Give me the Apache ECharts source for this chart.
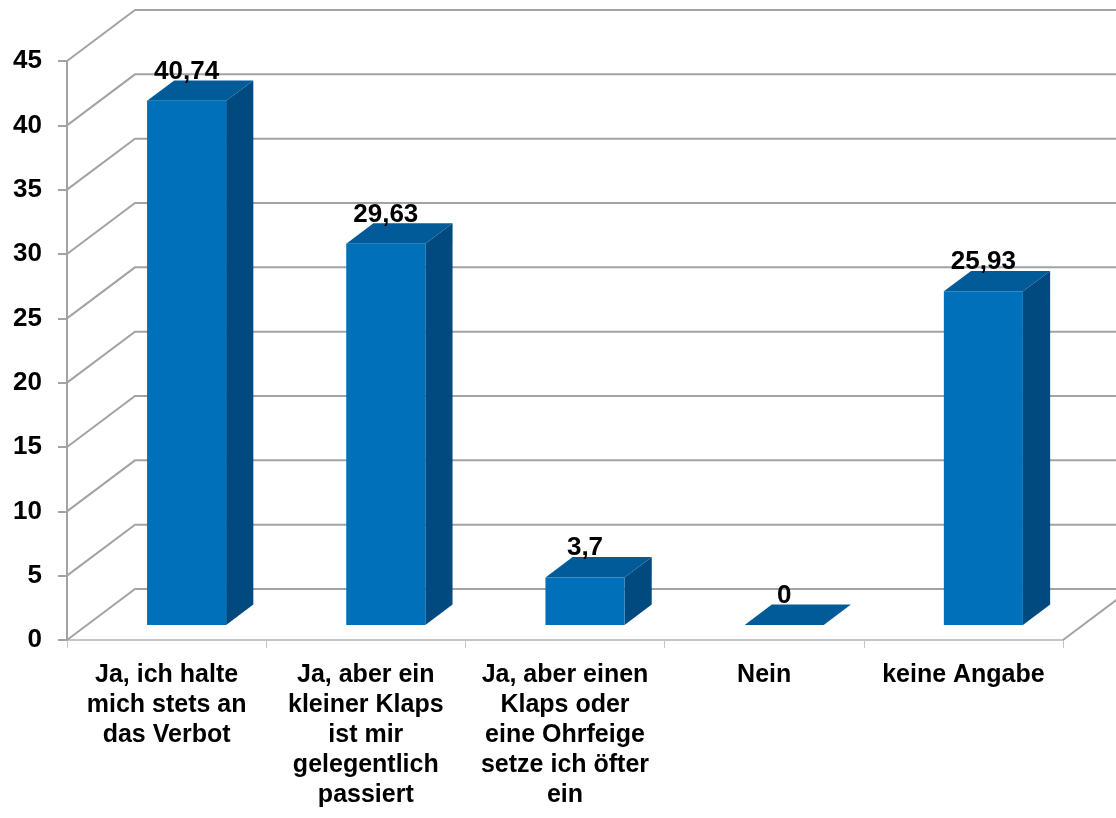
<!DOCTYPE html>
<html>
<head>
<meta charset="utf-8">
<script src="https://cdn.jsdelivr.net/npm/echarts@6/dist/echarts.min.js"></script>
<style>
  html, body { margin: 0; padding: 0; background: #ffffff; }
  #chart { width: 1116px; height: 818px; }
</style>
</head>
<body>
<div id="chart"></div>
<script>
// Survey answers (percent)
const categories = [
  'Ja, ich halte\nmich stets an\ndas Verbot',
  'Ja, aber ein\nkleiner Klaps\nist mir\ngelegentlich\npassiert',
  'Ja, aber einen\nKlaps oder\neine Ohrfeige\nsetze ich öfter\nein',
  'Nein',
  'keine Angabe'
];
const values = [40.74, 29.63, 3.7, 0, 25.93];
const yTicks = [0, 5, 10, 15, 20, 25, 30, 35, 40, 45];

// Oblique projection: offset of the back wall relative to the front plane
const DX = 68, DY = -51;
// Bar placement inside the depth and the band
const BAR_FRONT = 0.294, BAR_DEPTH = 0.4, BAR_WIDTH = 0.397;

const FONT = '"Liberation Sans", Arial, Helvetica, sans-serif';
const GRID_COLOR = '#a3a3a3';

const fmt = v => String(v).replace('.', ',');

const chart = echarts.init(document.getElementById('chart'), null, { renderer: 'canvas' });

function renderWalls(params, api) {
  const v = api.value(1);
  const cs = params.coordSys;
  const xL = cs.x, xR = cs.x + cs.width;
  const y = api.coord([0, v])[1];
  const children = [{
    type: 'polyline',
    shape: { points: [[xL, y], [xL + DX, y + DY], [xR + DX, y + DY]] },
    style: { stroke: GRID_COLOR, lineWidth: 2, fill: null }
  }];
  if (v === 0) {
    children.push({
      type: 'line',
      shape: { x1: xR, y1: y, x2: xR + DX, y2: y + DY },
      style: { stroke: GRID_COLOR, lineWidth: 2 }
    });
  }
  return { type: 'group', children };
}

function renderBar(params, api) {
  const idx = api.value(0), v = api.value(1);
  const base = api.coord([idx, 0]);
  const top = api.coord([idx, v]);
  const band = api.size([1, 0])[0];
  const w = band * BAR_WIDTH;
  const x0 = base[0] - w / 2 + DX * BAR_FRONT;
  const x1 = x0 + w;
  const yb = base[1] + DY * BAR_FRONT;
  const yt = top[1] + DY * BAR_FRONT;
  const ddx = DX * BAR_DEPTH, ddy = DY * BAR_DEPTH;
  return {
    type: 'group',
    children: [
      { type: 'polygon', shape: { points: [[x1, yt], [x1 + ddx, yt + ddy], [x1 + ddx, yb + ddy], [x1, yb]] },
        style: { fill: '#004A7F' } },
      { type: 'polygon', shape: { points: [[x0, yt], [x0 + ddx, yt + ddy], [x1 + ddx, yt + ddy], [x1, yt]] },
        style: { fill: '#005B98' } },
      { type: 'polygon', shape: { points: [[x0, yt], [x1, yt], [x1, yb], [x0, yb]] },
        style: { fill: '#0070BA' } },
      { type: 'text', x: (x0 + x1) / 2, y: yt + ddy - 9,
        style: { text: fmt(v), fill: '#000', font: 'bold 26px ' + FONT, align: 'center', verticalAlign: 'middle' } }
    ]
  };
}

chart.setOption({
  animation: false,
  backgroundColor: '#ffffff',
  grid: { left: 67, right: 53, top: 61, bottom: 178, containLabel: false },
  xAxis: {
    type: 'category',
    data: categories,
    boundaryGap: true,
    axisLine: { show: true, lineStyle: { color: '#c4c4c4', width: 2 } },
    axisTick: { show: true, length: 8, lineStyle: { color: '#c4c4c4', width: 1 } },
    axisLabel: {
      interval: 0, margin: 20,
      color: '#000', fontWeight: 'bold', fontSize: 25, lineHeight: 30,
      fontFamily: FONT, align: 'center'
    },
    splitLine: { show: false }
  },
  yAxis: {
    type: 'value',
    min: 0, max: 45, interval: 5,
    axisLine: { show: true, lineStyle: { color: GRID_COLOR, width: 2 } },
    axisTick: { show: true, length: 9, lineStyle: { color: GRID_COLOR, width: 2 } },
    axisLabel: { margin: 25, color: '#000', fontWeight: 'bold', fontSize: 26, fontFamily: FONT },
    splitLine: { show: false }
  },
  series: [
    {
      type: 'custom',
      name: 'walls',
      z: 1,
      silent: true,
      renderItem: renderWalls,
      encode: { x: 0, y: 1 },
      data: yTicks.map(t => [0, t])
    },
    {
      type: 'custom',
      name: 'Antworten',
      z: 5,
      renderItem: renderBar,
      encode: { x: 0, y: 1 },
      data: values.map((v, i) => [i, v])
    }
  ]
});
</script>
</body>
</html>
